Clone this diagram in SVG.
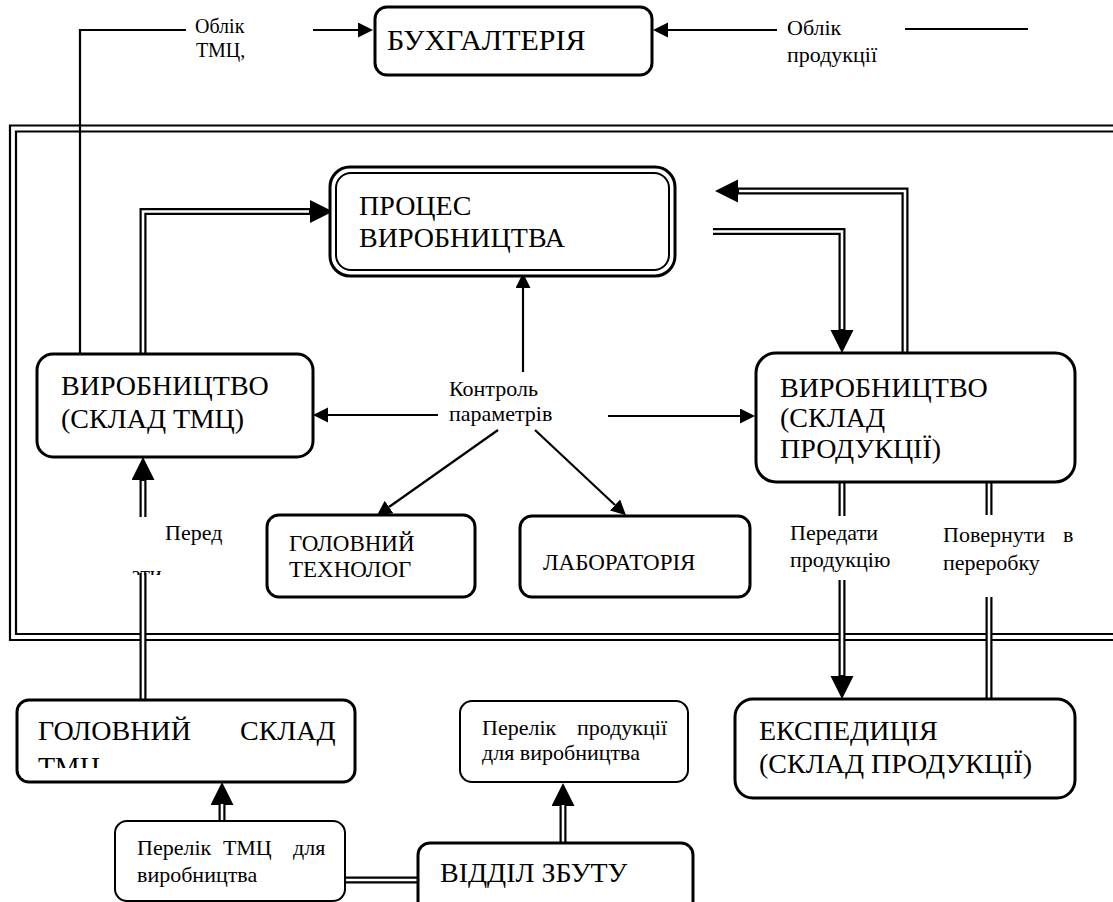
<svg xmlns="http://www.w3.org/2000/svg" width="1113" height="902" viewBox="0 0 1113 902">
<style>
.box{fill:#fff;stroke:#000;stroke-width:3}
.thin{fill:#fff;stroke:#000;stroke-width:2}
.big{font-family:"Liberation Serif",serif;font-size:28px;fill:#000}
.sm{font-family:"Liberation Serif",serif;font-size:22px;fill:#000}
.top{font-family:"Liberation Serif",serif;font-size:20px;fill:#000}
.mid{font-family:"Liberation Serif",serif;font-size:23px;fill:#000}
.ln{fill:none;stroke:#000;stroke-width:2.2}
.dbo{fill:none;stroke:#000;stroke-width:7}
.dbi{fill:none;stroke:#fff;stroke-width:2.6}
.fr{fill:none;stroke:#000;stroke-width:2.2}
</style>
<defs>
<marker id="sh" markerUnits="userSpaceOnUse" markerWidth="16" markerHeight="16" refX="0" refY="7.5" orient="auto" viewBox="0 0 16 16"><path d="M0,0 L15,7.5 L0,15 z" fill="#000"/></marker>
<marker id="dh" markerUnits="userSpaceOnUse" markerWidth="24" markerHeight="24" refX="0" refY="11.5" orient="auto" viewBox="0 0 24 24"><path d="M0,0 L23,11.5 L0,23 z" fill="#000"/></marker>
<clipPath id="c1"><rect x="100" y="560" width="100" height="15"/></clipPath>
<clipPath id="c2"><rect x="20" y="745" width="300" height="23"/></clipPath>
</defs>

<g id="frame">
<path class="fr" d="M1113,125.5 H10 V640 H1113"/>
<path class="fr" d="M1113,131.5 H16 V634 H1113"/>
</g>

<g id="connectors">
<path class="ln" d="M80,354 V30 H186"/>
<path class="ln" d="M313,30 H358" marker-end="url(#sh)"/>
<path class="ln" d="M777,30 H668" marker-end="url(#sh)"/>
<path class="ln" d="M905,29 H1028"/>
<path class="dbo" d="M143,354 V211.5 H310" marker-end="url(#dh)"/>
<path class="dbi" d="M143,354 V211.5 H309"/>
<path class="dbo" d="M713,231.5 H842 V330" marker-end="url(#dh)"/>
<path class="dbi" d="M713,231.5 H842 V329"/>
<path class="dbo" d="M905,353 V191 H738" marker-end="url(#dh)"/>
<path class="dbi" d="M905,353 V191 H739"/>
<path class="ln" d="M523,372 V288" marker-end="url(#sh)"/>
<path class="ln" d="M438,415 H328" marker-end="url(#sh)"/>
<path class="ln" d="M608,416 H740" marker-end="url(#sh)"/>
<path class="ln" d="M498,430 L389,507" marker-end="url(#sh)"/>
<path class="ln" d="M535,430 L615,505" marker-end="url(#sh)"/>
<path class="dbo" d="M143,517 V480" marker-end="url(#dh)"/>
<path class="dbi" d="M143,517 V481"/>
<path class="dbo" d="M143,573 V700"/>
<path class="dbi" d="M143,573 V700"/>
<path class="dbo" d="M842,460 V516"/>
<path class="dbi" d="M842,460 V516"/>
<path class="dbo" d="M842,580 V676" marker-end="url(#dh)"/>
<path class="dbi" d="M842,580 V675"/>
<path class="dbo" d="M989,699 V597"/>
<path class="dbi" d="M989,699 V597"/>
<path class="dbo" d="M989,515 V480" marker-end="url(#dh)"/>
<path class="dbi" d="M989,515 V481"/>
<path class="dbo" d="M222,821 V805" marker-end="url(#dh)"/>
<path class="dbi" d="M222,821 V804"/>
<path class="dbo" d="M345,880 H418"/>
<path class="dbi" d="M345,880 H418"/>
<path class="dbo" d="M563,843 V806" marker-end="url(#dh)"/>
<path class="dbi" d="M563,843 V805"/>
</g>

<g id="labels">
<text class="top" x="195" y="33">Облік</text>
<text class="top" x="196" y="57">ТМЦ,</text>
<text class="sm" x="787" y="35">Облік</text>
<text class="sm" x="787" y="62">продукції</text>
<text class="sm" x="449" y="396">Контроль</text>
<text class="sm" x="449" y="421">параметрів</text>
<text class="sm" x="165" y="540">Перед</text>
<text class="sm" x="131" y="581" clip-path="url(#c1)">ати</text>
<text class="sm" x="790" y="540">Передати</text>
<text class="sm" x="790" y="567">продукцію</text>
<text class="sm" y="542"><tspan x="943">Повернути</tspan><tspan x="1063">в</tspan></text>
<text class="sm" x="943" y="570">переробку</text>
</g>

<g id="buhgalteria">
<rect class="box" x="375" y="7" width="277" height="68" rx="12"/>
<text class="big" x="387" y="50" style="font-size:30px">БУХГАЛТЕРІЯ</text>
</g>

<g id="proces">
<rect class="box" x="330" y="167" width="345" height="109" rx="20"/>
<rect fill="none" stroke="#000" stroke-width="2" x="336" y="173" width="333" height="97" rx="15"/>
<text class="big" x="359" y="215">ПРОЦЕС</text>
<text class="big" x="359" y="247">ВИРОБНИЦТВА</text>
</g>

<g id="sklad-tmc">
<rect class="box" x="37" y="354" width="276" height="103" rx="16"/>
<text class="big" x="61" y="395">ВИРОБНИЦТВО</text>
<text class="big" x="61" y="428">(СКЛАД ТМЦ)</text>
</g>

<g id="sklad-prod">
<rect class="box" x="756" y="353" width="319" height="129" rx="20"/>
<text class="big" x="780" y="397">ВИРОБНИЦТВО</text>
<text class="big" x="780" y="427">(СКЛАД</text>
<text class="big" x="780" y="458">ПРОДУКЦІЇ)</text>
</g>

<g id="tehnolog">
<rect class="box" x="267" y="515" width="208" height="82" rx="12"/>
<text class="mid" x="289" y="551">ГОЛОВНИЙ</text>
<text class="mid" x="289" y="577">ТЕХНОЛОГ</text>
</g>

<g id="laboratoria">
<rect class="box" x="520" y="516" width="230" height="81" rx="12"/>
<text class="mid" x="543" y="570">ЛАБОРАТОРІЯ</text>
</g>

<g id="golovnyi-sklad">
<rect class="box" x="17" y="700" width="338" height="82" rx="12"/>
<text class="big" y="740"><tspan x="38">ГОЛОВНИЙ</tspan><tspan x="240">СКЛАД</tspan></text>
<text class="big" x="38" y="776" clip-path="url(#c2)">ТМЦ</text>
</g>

<g id="ekspedycia">
<rect class="box" x="735" y="699" width="340" height="99" rx="18"/>
<text class="big" x="759" y="740">ЕКСПЕДИЦІЯ</text>
<text class="big" x="759" y="773">(СКЛАД ПРОДУКЦІЇ)</text>
</g>

<g id="perelik-prod">
<rect class="thin" x="460" y="701" width="228" height="81" rx="12"/>
<text class="sm" y="735"><tspan x="482">Перелік</tspan><tspan x="577">продукції</tspan></text>
<text class="sm" x="482" y="760">для виробництва</text>
</g>

<g id="perelik-tmc">
<rect class="thin" x="115" y="821" width="230" height="80" rx="12"/>
<text class="sm" y="855"><tspan x="137">Перелік</tspan><tspan x="223">ТМЦ</tspan><tspan x="293">для</tspan></text>
<text class="sm" x="137" y="882">виробництва</text>
</g>

<g id="viddil-zbutu">
<rect class="box" x="418" y="843" width="275" height="70" rx="12"/>
<text class="big" x="440" y="882">ВІДДІЛ ЗБУТУ</text>
</g>
</svg>
